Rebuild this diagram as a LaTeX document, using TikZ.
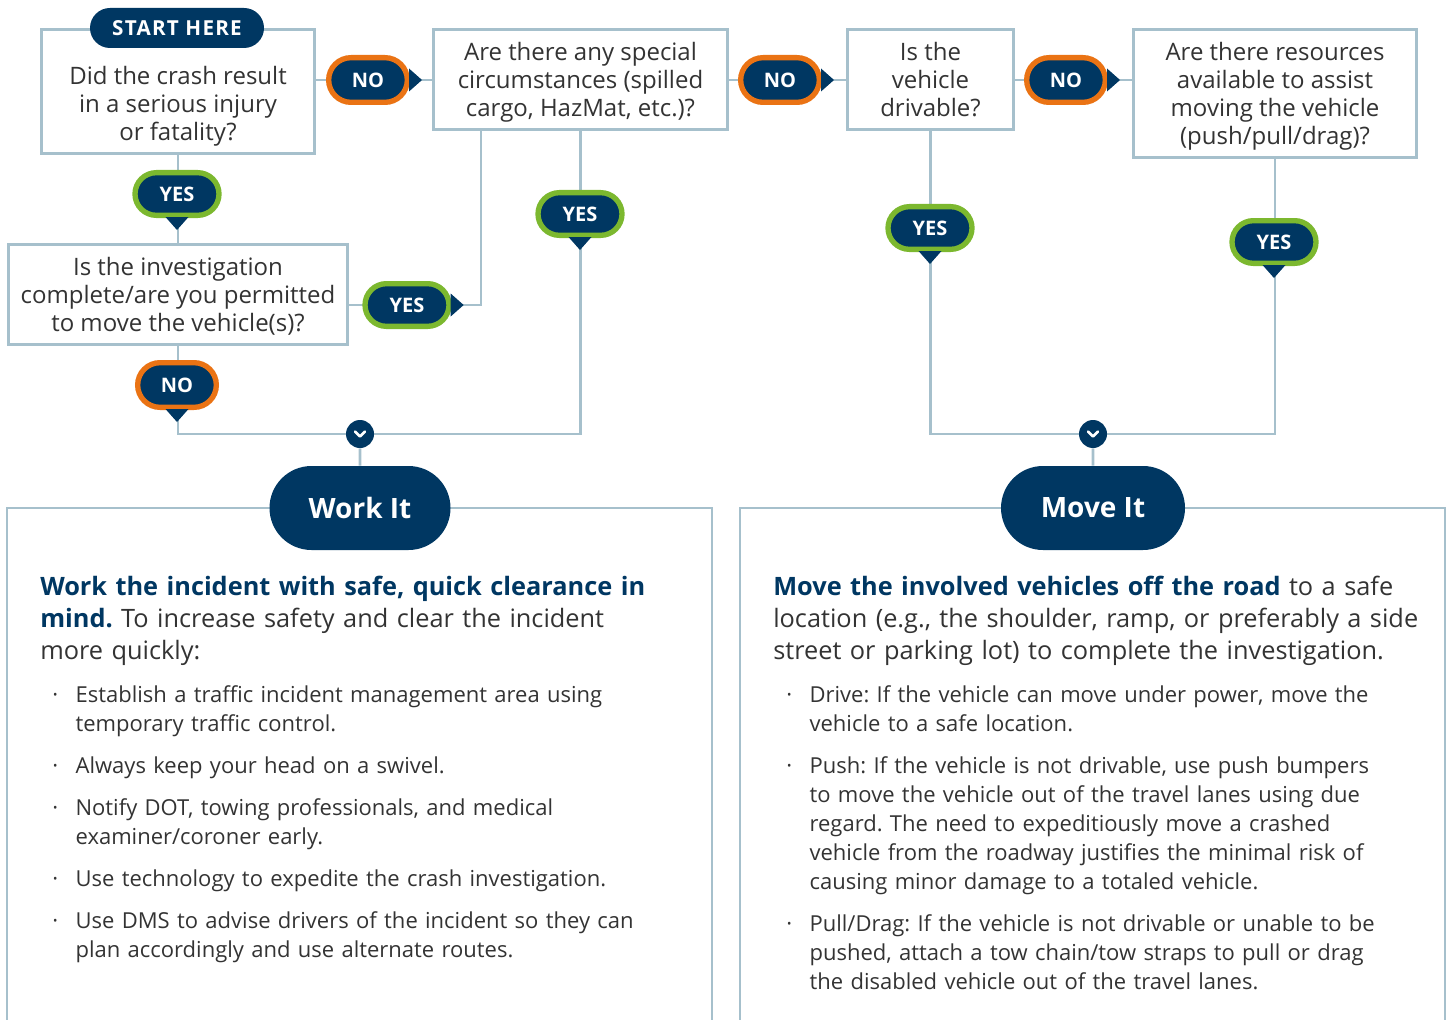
\documentclass[tikz,border=0pt]{standalone}
\usepackage{fontspec}
\setmainfont{Open Sans}
\frenchspacing
\usetikzlibrary{shapes.misc}

\definecolor{navy}{RGB}{0,55,98}
\definecolor{noorange}{RGB}{234,115,20}
\definecolor{yesgreen}{RGB}{124,184,47}
\definecolor{wire}{RGB}{166,192,204}
\definecolor{ink}{RGB}{51,51,51}

\pgfdeclarelayer{bg}
\pgfsetlayers{bg,main}

\newcommand{\bulitem}[1]{\hangindent=17.5pt\hangafter=1\noindent\makebox[17.5pt][l]{·}#1\par}

\tikzset{
    qbox/.style = {draw = wire, line width = 2.2pt, fill = white, align = center, text = ink,
                   font = \fontsize{18}{21}\selectfont, inner sep = 0pt,
                   text height = 60.2pt, text depth = 5pt},
    pill/.style = {rounded rectangle, fill = navy, text = white, inner sep = 0pt,
                   font = \fontsize{15}{18}\selectfont\bfseries, line width = 4pt},
    nopill/.style = {pill, draw = noorange, minimum width = 59pt, minimum height = 33.5pt},
    yespill/.style = {pill, draw = yesgreen, minimum width = 63pt, minimum height = 32pt},
    bigpill/.style = {rounded rectangle, fill = navy, text = white, inner sep = 0pt,
                      font = \fontsize{21}{25}\selectfont\bfseries, minimum height = 63pt},
    merge/.style = {circle, fill = navy, minimum size = 21pt, inner sep = 0pt},
    wireline/.style = {draw = wire, line width = 2.2pt},
    intro/.style = {anchor = north west, inner sep = 0pt, text width = 520pt, align = left,
                    text = ink, font = \fontsize{19}{24}\selectfont},
    bullets/.style = {anchor = north west, inner sep = 0pt, text width = 520pt, align = left,
                      text = ink, font = \fontsize{16.5}{21.75}\selectfont\setlength{\parskip}{9.75pt}},
}

\begin{document}
\begin{tikzpicture}[x = 0.75pt, y = -0.75pt]
    \useasboundingbox (0,0) rectangle (1449,1020);

    % questions
    \node[qbox, text height = 0pt, text depth = 0pt, minimum width = 205pt, minimum height = 93pt] (q1) at (178,91.5) {};
    \node[qbox, draw = none, fill = none] (q1text) at (178,103.5)
        {Did the crash result\\in a serious injury\\or fatality?};
    \node[pill, minimum width = 130.5pt, minimum height = 30pt,
          font = \fontsize{15.5}{18}\selectfont\bfseries\addfontfeature{LetterSpace=6}] (start) at (177,28) {START HERE};
    \node[qbox, minimum width = 220.5pt, minimum height = 75pt] (q2) at (580.5,79.5)
        {Are there any special\\circumstances (spilled\\cargo, HazMat, etc.)?};
    \node[qbox, minimum width = 124.5pt, minimum height = 75pt] (q3) at (930.5,79.5)
        {Is the\\vehicle\\drivable?};
    \node[qbox, text height = 81.2pt, minimum width = 212pt, minimum height = 96pt] (q4) at (1275,93.5)
        {Are there resources\\available to assist\\moving the vehicle\\(push/pull/drag)?};
    \node[qbox, minimum width = 254pt, minimum height = 75pt] (q5) at (178,294.5)
        {Is the investigation\\complete/are you permitted\\to move the vehicle(s)?};

    % answers
    \node[nopill] (no1) at (368,80) {NO};
    \node[nopill] (no2) at (780,80) {NO};
    \node[nopill] (no3) at (1066,80) {NO};
    \node[nopill] (no4) at (177,385) {NO};
    \node[yespill] (yes1) at (177,194) {YES};
    \node[yespill] (yes2) at (407,305) {YES};
    \node[yespill] (yes3) at (580,214) {YES};
    \node[yespill] (yes4) at (930,228) {YES};
    \node[yespill] (yes5) at (1274,242) {YES};

    \foreach \p in {no1, no2, no3, yes2}
        \fill[navy] (\p.east) ++(-1,-11.5) -- ++(13,11.5) -- ++(-13,11.5) -- cycle;
    \foreach \p in {yes1, yes3, no4, yes4, yes5}
        \fill[navy] (\p.south) ++(-11.5,-1) -- ++(11.5,13) -- ++(11.5,-13) -- cycle;

    % merges and outcomes
    \node[merge] (m1) at (360,434) {};
    \node[merge] (m2) at (1093,434) {};
    \foreach \m in {m1, m2}
        \draw[white, line width = 2pt, line cap = round, line join = round]
            (\m) ++(-5,-2.5) -- ++(5,5) -- ++(5,-5);
    \node[bigpill, minimum width = 135.75pt] (work) at (360,508) {Work It};
    \node[bigpill, minimum width = 138pt] (move) at (1093,508) {Move It};
    \coordinate (k2) at (481,130);

    \begin{pgfonlayer}{bg}
        \draw[wireline] (no1 -| q1.east) -- (no1 -| q2.west);
        \draw[wireline] (no2 -| q2.east) -- (no2 -| q3.west);
        \draw[wireline] (no3 -| q3.east) -- (no3 -| q4.west);
        \draw[wireline] (q1.south) -- (q5.north);
        \draw[wireline] (yes2 -| q5.east) -| (k2);
        \draw[wireline] (q5.south) |- (m1);
        \draw[wireline] (q2.south) |- (m1);
        \draw[wireline] (m1) -- (work);
        \draw[wireline] (q3.south) |- (m2);
        \draw[wireline] (q4.south) |- (m2);
        \draw[wireline] (m2) -- (move);
        % panels
        \draw[wireline, line width = 2pt] (7,1030) |- (712,508) -- (712,1030);
        \draw[wireline, line width = 2pt] (740,1030) |- (1445,508) -- (1445,1030);
    \end{pgfonlayer}

    % panel texts
    \node[intro] (wintro) at (40,576)
        {{\color{navy}\bfseries Work the incident with safe, quick clearance in\\mind.} To increase safety and clear the incident\\more quickly:};
    \node[bullets] (wlist) at (52,685)
        {\bulitem{Establish a traffic incident management area using\newline temporary traffic control.}
         \bulitem{Always keep your head on a swivel.}
         \bulitem{Notify DOT, towing professionals, and medical\newline examiner/coroner early.}
         \bulitem{Use technology to expedite the crash investigation.}
         \bulitem{Use DMS to advise drivers of the incident so they can\newline plan accordingly and use alternate routes.}};
    \node[intro] (mintro) at (773,576)
        {{\color{navy}\bfseries Move the involved vehicles off the road} to a safe\\location (e.g., the shoulder, ramp, or preferably a side\\street or parking lot) to complete the investigation.};
    \node[bullets] (mlist) at (786,685)
        {\bulitem{Drive: If the vehicle can move under power, move the\newline vehicle to a safe location.}
         \bulitem{Push: If the vehicle is not drivable, use push bumpers\newline to move the vehicle out of the travel lanes using due\newline regard. The need to expeditiously move a crashed\newline vehicle from the roadway justifies the minimal risk of\newline causing minor damage to a totaled vehicle.}
         \bulitem{Pull/Drag: If the vehicle is not drivable or unable to be\newline pushed, attach a tow chain/tow straps to pull or drag\newline the disabled vehicle out of the travel lanes.}};
\end{tikzpicture}
\end{document}
